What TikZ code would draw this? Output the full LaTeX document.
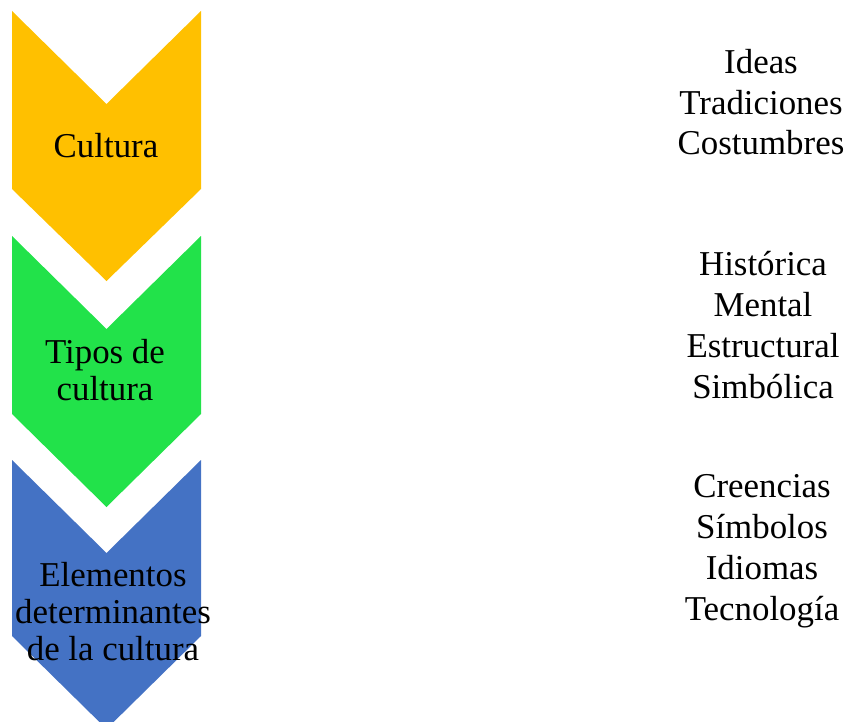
\documentclass[tikz,border=0pt]{standalone}
\usepackage{fontspec}
\setmainfont{Liberation Serif}
\definecolor{cyellow}{HTML}{FFC000}
\definecolor{cgreen}{HTML}{22E24A}
\definecolor{cblue}{HTML}{4472C4}
\tikzset{
  chevron/.style={fill=#1, draw=none},
  lefttext/.style={anchor=base, align=center, inner sep=0pt, font=\fontsize{35}{37}\selectfont},
  righttext/.style={anchor=base, align=center, inner sep=0pt, font=\fontsize{35}{41}\selectfont}
}
\begin{document}
\begin{tikzpicture}[x=1bp,y=-1bp]
\useasboundingbox (0,0) rectangle (846,722);
\begin{scope}
\clip (0,0) rectangle (846,722);
\fill[chevron=cyellow] (12,11) -- (106.5,104) -- (201,11) -- (201,189) -- (106.5,281) -- (12,189) -- cycle;
\fill[chevron=cgreen] (12,236) -- (106.5,329) -- (201,236) -- (201,414) -- (106.5,507) -- (12,414) -- cycle;
\fill[chevron=cblue] (12,460) -- (106.5,553) -- (201,460) -- (201,636) -- (106.5,729) -- (12,636) -- cycle;
\end{scope}
\node[lefttext] (c1) at (106,158) {Cultura};
\node[lefttext] (c2) at (105,400) {Tipos de\\cultura};
\node[lefttext] (c3) at (113,660) {Elementos\\determinantes\\de la cultura};
\node[righttext] (r1) at (761,155) {Ideas\\Tradiciones\\Costumbres};
\node[righttext] (r2) at (763,398) {Histórica\\Mental\\Estructural\\Simbólica};
\node[righttext] (r3) at (762,620) {Creencias\\Símbolos\\Idiomas\\Tecnología};
\end{tikzpicture}
\end{document}
